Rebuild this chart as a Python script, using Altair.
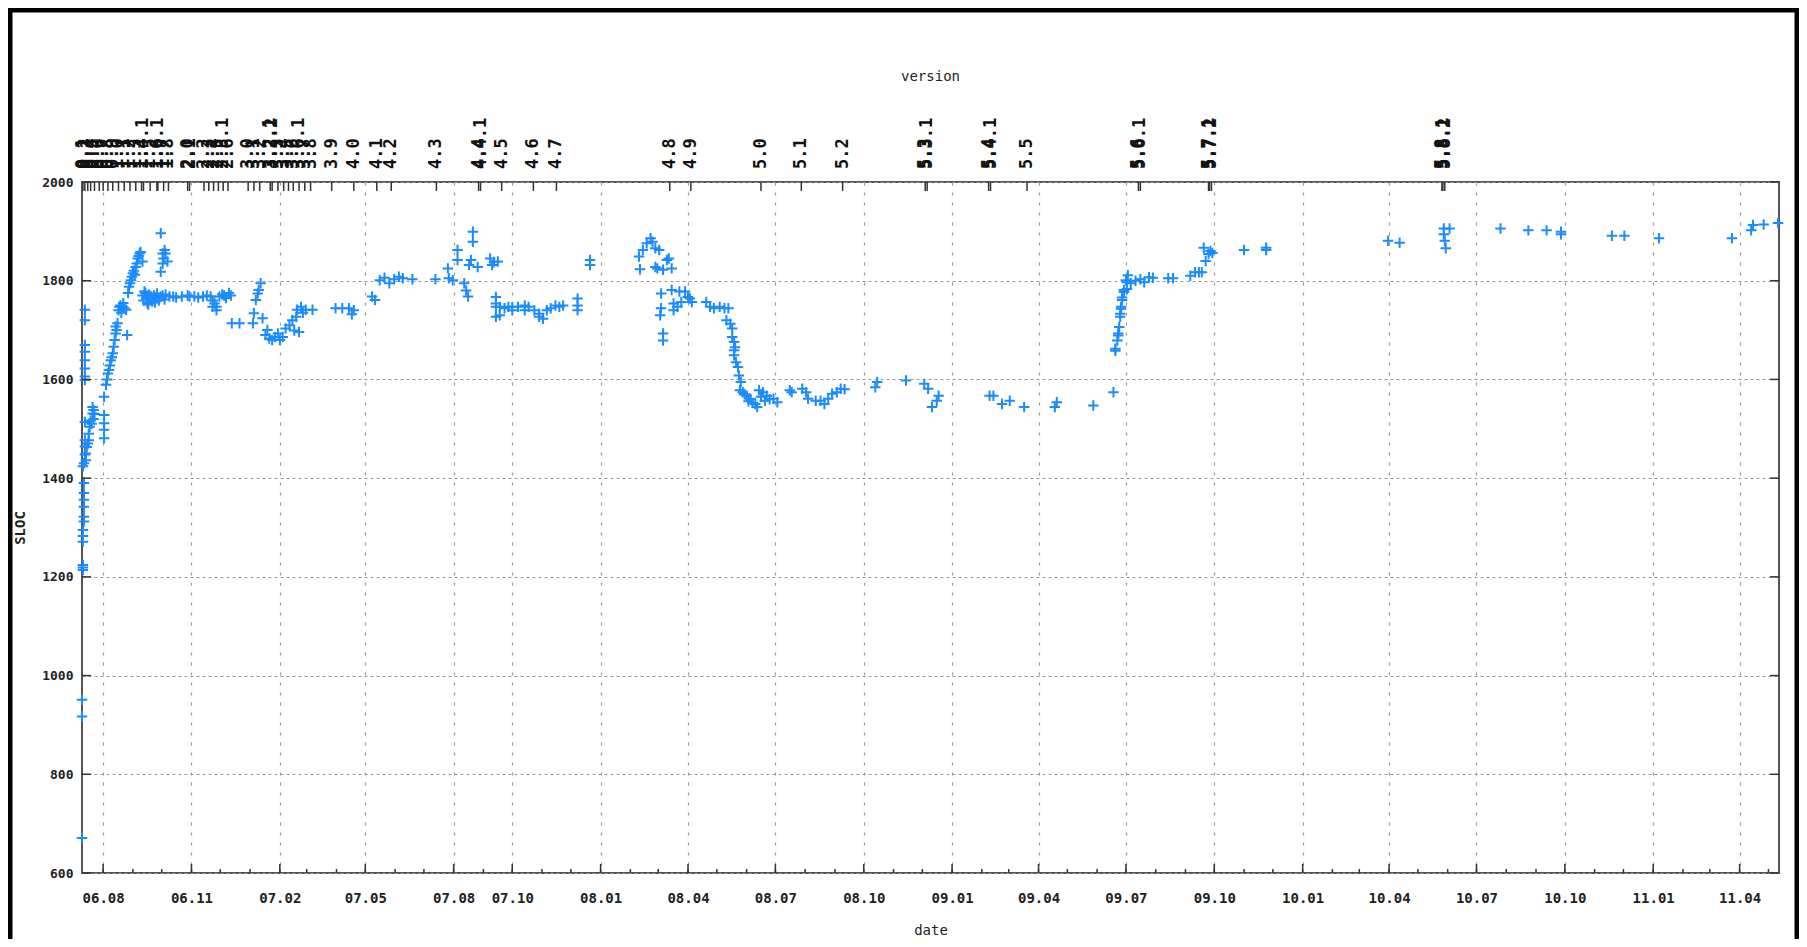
import altair as alt
import pandas as pd
from datetime import date, timedelta

# ---------------- data ----------------
BASE = date(2006, 7, 10)          # day 0 of the day offsets below

launch_days = [0, 0, 0, 1, 1, 1, 1, 1, 1, 2, 2, 2, 2, 2, 2, 2,
               3, 3, 3, 3, 3, 3, 3, 3, 3, 3, 3, 3]
launch_sloc = [671, 917, 951, 1214, 1219, 1224, 1271, 1283, 1295, 1312, 1322, 1342, 1356, 1370, 1390, 1430,
               1448, 1464, 1477, 1514, 1599, 1606, 1622, 1639, 1656, 1670, 1720, 1741]

early_days = [1, 4, 4, 5, 7, 7, 8, 9, 11, 11, 12, 12, 13, 6, 10, 23, 23, 23, 23]
early_sloc = [1424, 1436, 1450, 1463, 1477, 1490, 1504, 1517, 1531, 1544, 1520, 1538, 1530, 1470, 1510,
              1481, 1498, 1511, 1528]

rise06_days = [23, 25, 26, 27, 28, 29, 30, 31, 32, 33, 34, 35, 35, 36, 37, 38, 39, 40, 41, 42,
               43, 44, 46, 47, 48, 49, 50, 51, 52, 53, 54, 55, 56, 57, 58, 59, 60, 61, 63]
rise06_sloc = [1565, 1589, 1600, 1612, 1619, 1628, 1639, 1645, 1653, 1666, 1680, 1693, 1707, 1700, 1714,
               1740, 1747, 1750, 1735, 1747, 1755, 1745, 1741, 1690, 1775, 1788, 1795, 1801, 1808, 1815,
               1820, 1812, 1828, 1835, 1845, 1850, 1855, 1858, 1839]

plat06_days = [63, 64, 66, 67, 68, 70, 71, 72, 73, 75, 77, 78, 80, 82, 84, 86, 87, 65, 69, 74, 76,
               82, 82, 84, 84, 85, 86, 87, 89]
plat06_sloc = [1770, 1760, 1775, 1765, 1755, 1772, 1762, 1768, 1758, 1770, 1765, 1774, 1760, 1768, 1770,
               1762, 1772, 1778, 1752, 1764, 1756, 1896, 1818, 1855, 1835, 1845, 1862, 1855, 1839]

flat06_days = [91, 95, 98, 104, 110, 112, 117, 121, 126, 130, 134, 136, 138, 140, 143, 146, 148, 150,
               153, 155, 136, 140]
flat06_sloc = [1768, 1768, 1766, 1768, 1770, 1768, 1768, 1766, 1768, 1770, 1768, 1760, 1754, 1747, 1768,
               1772, 1770, 1765, 1775, 1770, 1747, 1740]

dip07_days = [156, 164, 178, 179, 181, 183, 184, 186, 188, 191, 193, 195, 198, 201, 204, 206, 209, 212,
              216, 219, 221, 223, 224, 226, 228, 230, 233, 240]
dip07_sloc = [1714, 1714, 1714, 1734, 1761, 1774, 1781, 1795, 1724, 1690, 1700, 1683, 1680, 1686, 1693,
              1680, 1686, 1703, 1710, 1720, 1699, 1727, 1741, 1696, 1747, 1735, 1741, 1741]

mid07_days = [264, 271, 278, 283, 281, 302, 305, 310, 315, 320, 325, 330, 334, 344, 368, 381, 382, 386,
              391, 391, 398, 400, 402, 403, 405, 407, 407, 412, 427, 433]
mid07_sloc = [1744, 1744, 1744, 1740, 1732, 1768, 1761, 1801, 1806, 1795, 1803, 1808, 1805, 1803, 1803,
              1825, 1805, 1801, 1862, 1842, 1795, 1780, 1768, 1832, 1842, 1899, 1879, 1828, 1832, 1839]

late07_days = [425, 429, 431, 431, 431, 431, 435, 435, 440, 444, 448, 448, 454, 461, 461, 465, 471, 476,
               476, 480, 484, 488, 493, 497, 501, 516, 516, 516, 529, 529]
late07_sloc = [1845, 1838, 1767, 1747, 1727, 1754, 1747, 1730, 1744, 1747, 1747, 1740, 1747, 1750, 1740,
               1747, 1740, 1733, 1727, 1723, 1740, 1744, 1750, 1747, 1750, 1764, 1750, 1740, 1842, 1832]

spring08_days = [580, 581, 584, 588, 592, 594, 597, 597, 599, 601, 605, 609, 611, 614, 603, 603, 602, 605,
                 605, 614, 616, 616, 620, 624, 622, 628, 631, 635, 633, 650, 654, 658, 664, 669, 673]
spring08_sloc = [1849, 1823, 1862, 1876, 1886, 1879, 1866, 1828, 1825, 1862, 1822, 1842, 1845, 1825, 1774,
                 1744, 1730, 1693, 1679, 1781, 1754, 1740, 1747, 1757, 1778, 1778, 1767, 1757, 1764, 1757,
                 1747, 1744, 1747, 1744, 1744]

drop08_days = [671, 675, 677, 677, 679, 679, 679, 681, 684, 686, 685, 688, 692, 696, 701, 703, 705, 709,
               711, 713, 720, 724, 737, 739, 750, 754, 756, 764, 769, 773, 777, 781, 786, 790, 794,
               680, 683, 690, 694, 698, 707, 716]
drop08_sloc = [1720, 1713, 1703, 1686, 1676, 1659, 1649, 1635, 1608, 1595, 1578, 1574, 1567, 1561, 1550,
               1544, 1578, 1574, 1557, 1567, 1561, 1554, 1578, 1574, 1581, 1574, 1561, 1557, 1557, 1550,
               1561, 1571, 1574, 1581, 1580, 1665, 1625, 1570, 1556, 1552, 1565, 1560]

low09_days = [826, 828, 858, 877, 881, 885, 890, 892, 945, 949, 958, 966, 981, 1013, 1015, 1053, 1074]
low09_sloc = [1584, 1595, 1598, 1591, 1581, 1544, 1557, 1567, 1567, 1567, 1550, 1557, 1544, 1544, 1554,
              1547, 1574]

rise09_days = [1076, 1076, 1078, 1079, 1079, 1080, 1081, 1081, 1082, 1082, 1083, 1083, 1085, 1085, 1087,
               1088, 1088, 1089, 1092, 1097, 1102, 1106, 1111, 1115, 1131, 1136, 1154, 1159, 1163, 1166,
               1168, 1170, 1173, 1175, 1177]
rise09_sloc = [1662, 1658, 1679, 1693, 1689, 1706, 1727, 1733, 1747, 1743, 1761, 1766, 1781, 1777, 1801,
               1797, 1783, 1811, 1795, 1800, 1803, 1797, 1807, 1806, 1805, 1805, 1810, 1817, 1817, 1817,
               1867, 1840, 1854, 1860, 1856]

tail_days = [1210, 1233, 1233, 1360, 1372, 1418, 1418, 1419, 1420, 1424, 1477, 1506, 1525, 1540, 1540,
             1593, 1606, 1642, 1718, 1738, 1740, 1751, 1766]
tail_sloc = [1862, 1862, 1867, 1881, 1877, 1906, 1894, 1881, 1866, 1906, 1906, 1902, 1902, 1899, 1894,
             1891, 1891, 1886, 1886, 1902, 1913, 1914, 1917]

version_names = ["0.1", "0.2", "0.3", "0.4", "0.5", "0.6", "0.7", "0.8", "0.9", "1.0", "1.1", "1.2",
                 "1.3", "1.4", "1.4.1", "1.5", "1.6", "1.6.1", "1.7", "1.8",
                 "2.0", "2.1", "2.2", "2.3", "2.4", "2.5", "2.5.1", "2.6",
                 "3.0", "3.1", "3.2", "3.2.1", "3.2.2", "3.3", "3.4", "3.5", "3.6", "3.6.1", "3.7", "3.8",
                 "3.9", "4.0", "4.1", "4.2", "4.3", "4.4", "4.4.1", "4.5", "4.6", "4.7", "4.8", "4.9",
                 "5.0", "5.1", "5.2", "5.3", "5.3.1", "5.4", "5.4.1", "5.5", "5.6", "5.6.1",
                 "5.7", "5.7.1", "5.7.2", "5.8", "5.8.1", "5.8.2"]
version_days = [1, 3, 6, 9, 13, 18, 22, 27, 32, 38, 44, 50,
                56, 62, 64, 71, 78, 79, 85, 90,
                110, 112, 127, 132, 137, 142, 147, 152,
                173, 179, 185, 196, 198, 204, 210, 215, 220, 226, 232, 238,
                260, 283, 307, 322, 369, 413, 415, 437, 470, 494, 612, 634,
                707, 749, 792, 878, 880, 944, 946, 984, 1100, 1102,
                1173, 1174, 1176, 1416, 1417, 1419]

major_ticks = ["2006-08-01", "2006-11-01", "2007-02-01", "2007-05-01", "2007-08-01", "2007-10-01",
               "2008-01-01", "2008-04-01", "2008-07-01", "2008-10-01", "2009-01-01", "2009-04-01",
               "2009-07-01", "2009-10-01", "2010-01-01", "2010-04-01", "2010-07-01", "2010-10-01",
               "2011-01-01", "2011-04-01"]
y_ticks = [600, 800, 1000, 1200, 1400, 1600, 1800, 2000]
x_start, x_end = "2006-07-10", "2011-05-12"

# ---------------- assemble tables ----------------
seg_days = [launch_days, early_days, rise06_days, plat06_days, flat06_days, dip07_days, mid07_days,
            late07_days, spring08_days, drop08_days, low09_days, rise09_days, tail_days]
seg_sloc = [launch_sloc, early_sloc, rise06_sloc, plat06_sloc, flat06_sloc, dip07_sloc, mid07_sloc,
            late07_sloc, spring08_sloc, drop08_sloc, low09_sloc, rise09_sloc, tail_sloc]
all_days, all_sloc = [], []
for d, s in zip(seg_days, seg_sloc):
    assert len(d) == len(s), (len(d), len(s))
    all_days += d
    all_sloc += s
assert len(version_names) == len(version_days)


def to_date(d):
    return (BASE + timedelta(days=d)).strftime("%Y-%m-%dT00:00:00")


def dt(s):
    y, m, d = (int(p) for p in s.split("-"))
    return alt.DateTime(year=y, month=m, date=d)


pts = pd.DataFrame({"date": [to_date(d) for d in all_days], "sloc": all_sloc})
vers = pd.DataFrame({"date": [to_date(d) for d in version_days], "ver": version_names})
majors = pd.DataFrame({"date": [s + "T00:00:00" for s in major_ticks]})
minors = pd.DataFrame({"date": [t.strftime("%Y-%m-%dT00:00:00")
                                for t in pd.date_range("2006-08-01", "2011-05-01", freq="MS")]})
ydf = pd.DataFrame({"v": y_ticks})
one = pd.DataFrame({"k": [0]})

# ---------------- styling ----------------
W, H = 1697, 691
BLUE = "#1a8cff"
FONT = "DejaVu Sans Mono"
TICK = "#333333"

x_scale = alt.Scale(domain=[dt(x_start), dt(x_end)])
y_scale = alt.Scale(domain=[600, 2000], nice=False, zero=False)

x_axis = alt.Axis(values=[dt(s) for s in major_ticks], format="%y.%m", title="date",
                  grid=True, gridDash=[3, 7], gridColor="#9a9a9a", gridWidth=1.2,
                  ticks=False, domain=False, labelFont=FONT, labelFontSize=14, labelFontWeight="bold",
                  labelColor="#222222", labelPadding=18, labelFlush=False, labelOverlap=False,
                  titleFont=FONT, titleFontSize=14, titleFontWeight="normal", titleColor="#222222",
                  titlePadding=18)
y_axis = alt.Axis(values=y_ticks, format="d", title="SLOC", grid=True, gridDash=[3, 3],
                  gridColor="#9a9a9a", gridWidth=1.2, ticks=False, domain=False, labelFont=FONT,
                  labelFontSize=13, labelFontWeight="bold", labelColor="#222222", labelPadding=9,
                  labelFlush=False, titleFont=FONT, titleFontSize=14, titleFontWeight="bold",
                  titleColor="#222222", titlePadding=14)

points = alt.Chart(pts).mark_point(
    shape="M-1,0L1,0M0,-1L0,1", filled=False, size=110, strokeWidth=2, color=BLUE, opacity=1
).encode(
    x=alt.X("date:T", scale=x_scale, axis=x_axis),
    y=alt.Y("sloc:Q", scale=y_scale, axis=y_axis),
)

ver_text = alt.Chart(vers).mark_text(
    angle=270, align="left", baseline="middle", font=FONT, fontSize=17, fontWeight="bold", color="#111111"
).encode(x="date:T", y=alt.value(-13), text="ver:N")

ver_ticks = alt.Chart(vers).mark_rule(color=TICK, strokeWidth=1.5).encode(
    x="date:T", y=alt.value(0), y2=alt.value(9))

major_marks = alt.Chart(majors).mark_rule(color=TICK, strokeWidth=1.5).encode(
    x="date:T", y=alt.value(H), y2=alt.value(H - 9))
minor_marks = alt.Chart(minors).mark_rule(color=TICK, strokeWidth=1.5).encode(
    x="date:T", y=alt.value(H), y2=alt.value(H - 4))

left_marks = alt.Chart(ydf).mark_rule(color=TICK, strokeWidth=1.5).encode(
    y="v:Q", x=alt.value(0), x2=alt.value(9))
right_marks = alt.Chart(ydf).mark_rule(color=TICK, strokeWidth=1.5).encode(
    y="v:Q", x=alt.value(W), x2=alt.value(W - 9))

top_title = alt.Chart(one).mark_text(
    font=FONT, fontSize=14, color="#222222", align="center", baseline="middle"
).encode(x=alt.value(W / 2), y=alt.value(-105), text=alt.value("version"))

frame = alt.Chart(one).mark_rect(fillOpacity=0, stroke="black", strokeWidth=5).encode(
    x=alt.value(-72), x2=alt.value(W + 18), y=alt.value(-172), y2=alt.value(H + 120))

chart = alt.layer(
    points, ver_ticks, major_marks, minor_marks, left_marks, right_marks, ver_text, top_title, frame
).properties(
    width=W, height=H,
    autosize=alt.AutoSizeParams(type="none"),
    padding={"left": 74, "top": 174, "right": 20, "bottom": 66},
    background="white",
).configure_view(stroke="#555555", strokeWidth=2)

chart.save("out.html", embed_options={"renderer": "svg", "actions": False})
